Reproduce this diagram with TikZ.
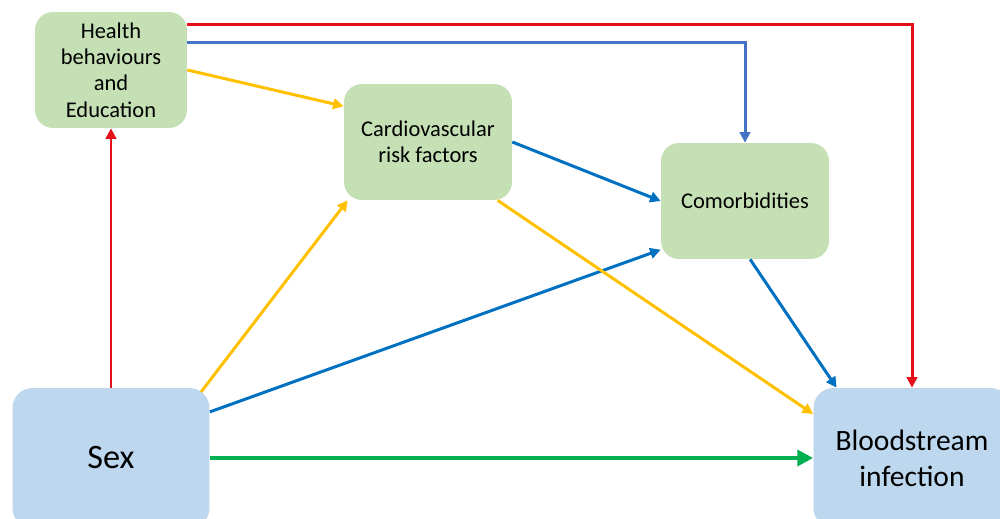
\documentclass[tikz,border=0pt]{standalone}
\usepackage{fontspec}
\setmainfont{Carlito}
\usepackage{xcolor}
\usetikzlibrary{arrows.meta}
\definecolor{boxgreen}{HTML}{C5E0B4}
\definecolor{boxblue}{HTML}{BDD7EE}
\definecolor{linered}{HTML}{E3101A}
\definecolor{lineblue}{HTML}{0070C0}
\definecolor{lineblueb}{HTML}{4472C4}
\definecolor{lineyellow}{HTML}{FFC000}
\definecolor{linegreen}{HTML}{00B050}

\begin{document}
\begin{tikzpicture}[x=0.02cm, y=-0.02cm,
  factor/.style={fill=boxgreen, rounded corners=0.36cm, inner sep=0pt,
    minimum height=2.32cm, align=center, font=\fontsize{12.8}{15}\selectfont},
  outcome/.style={fill=boxblue, rounded corners=0.4cm, inner sep=0pt,
    minimum width=3.94cm, minimum height=2.8cm, align=center},
  link/.style={line width=1.7pt, -{Triangle[length=6pt,width=6pt]}},
  biglink/.style={line width=2.8pt, -{Triangle[length=9pt,width=9pt]}}]
\clip (0,0) rectangle (1000,519);
\fill[white] (0,0) rectangle (1000,519);
%
\node[factor, minimum width=3.04cm] (health) at (111, 70) {Health\\behaviours\\and\\Education};
\node[factor, minimum width=3.36cm] (cardio) at (428, 142) {Cardiovascular\\risk factors};
\node[factor, minimum width=3.36cm] (comorb) at (745, 201) {Comorbidities};
%
\node[outcome, font=\fontsize{19.5}{23}\selectfont] (sex) at (111, 458) {Sex};
\node[outcome, font=\fontsize{16.8}{20.5}\selectfont] (bsi) at (912, 458) {Bloodstream\\infection};
%
\draw[link, linered] (sex.north) -- (health.south);
\draw[link, linered] (health.31) -| (bsi.north);
\draw[link, lineblueb] (health.20) -| (comorb.north);
\draw[link, lineyellow] (health.east) -- (cardio.157);
\draw[link, lineblue] (cardio.east) -- (comorb.west);
%
\draw[link, lineyellow, shorten <=-3pt] (sex.37) -- (cardio.216);
\draw[link, lineblue] (sex.25) -- (comorb.210);
\draw[link, lineyellow] (cardio.320) -- (bsi.156);
\draw[link, lineblue] (comorb.275) -- (bsi.137);
\draw[biglink, linegreen] (sex.east) -- (bsi.west);
\end{tikzpicture}
\end{document}
